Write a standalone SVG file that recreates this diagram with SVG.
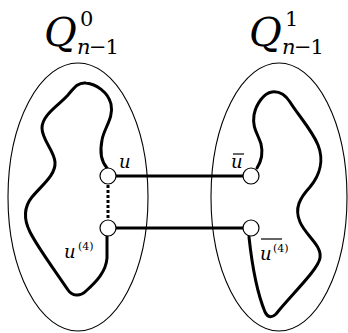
<svg xmlns="http://www.w3.org/2000/svg" width="348" height="333" viewBox="0 0 348 333">
<style>
.ell{fill:none;stroke:#000;stroke-width:1.1}
.cyc{fill:none;stroke:#000;stroke-width:3;stroke-linejoin:round;stroke-linecap:round}
.edge{stroke:#000;stroke-width:3;fill:none}
.dot{stroke:#000;stroke-width:3;stroke-dasharray:3 2;fill:none}
.node{fill:#fff;stroke:#000;stroke-width:1.2}
text{font-family:'DejaVu Serif','Liberation Serif',serif;fill:#000}
.t{font-style:italic}
.bar{stroke:#000;stroke-width:1.2}
</style>
<g id="Q0">
<ellipse class="ell" cx="78" cy="197" rx="70" ry="134"/>
<text class="t" x="44" y="46" font-size="40">Q</text>
<text x="80" y="26" font-size="21">0</text>
<text class="t" x="77" y="54" font-size="21">n</text>
<text x="89" y="54" font-size="21" letter-spacing="-1">−1</text>
<path class="cyc" d="M107,168 C100,160 100,150 102,140 C104,128 114,118 111,104 C108,92 96,84 86,83 C78,82 74,88 68,95 C58,106 42,115 42,128 C42,140 54,150 55,162 C56,175 42,185 32,197 C24,207 23,218 30,232 C38,248 56,272 68,290 C72,296 80,297 86,291 C96,282 106,272 107,258 L107,236"/>
</g>
<g id="Q1">
<ellipse class="ell" cx="279" cy="197" rx="68" ry="134"/>
<text class="t" x="249" y="46" font-size="40">Q</text>
<text x="285" y="26" font-size="21">1</text>
<text class="t" x="282" y="54" font-size="21">n</text>
<text x="294" y="54" font-size="21" letter-spacing="-1">−1</text>
<path class="cyc" d="M257,168 C262,160 263,152 261,144 C258,134 252,128 254,115 C256,104 264,93 272,92 C280,91 286,96 290,102 C298,115 312,130 318,145 C324,160 320,175 310,187 C300,198 294,208 300,222 C306,236 322,245 320,258 C318,270 290,296 276,314 C272,318 268,318 265,312 C258,295 252,265 249,237"/>
</g>
<g id="connectors">
<line class="edge" x1="116" y1="176" x2="243" y2="176"/>
<line class="edge" x1="116" y1="228" x2="243" y2="228"/>
<line class="dot" x1="108" y1="185" x2="108" y2="220"/>
</g>
<g id="u">
<circle class="node" cx="108" cy="176" r="8"/>
<text class="t" x="119" y="168" font-size="18">u</text>
</g>
<g id="u4">
<circle class="node" cx="108" cy="228" r="8"/>
<text class="t" x="64" y="258" font-size="18">u</text>
<text x="78" y="250" font-size="11">(4)</text>
</g>
<g id="ubar">
<circle class="node" cx="251" cy="176" r="8"/>
<text class="t" x="231" y="168" font-size="18">u</text>
<line class="bar" x1="233" y1="154" x2="244" y2="154"/>
</g>
<g id="u4bar">
<circle class="node" cx="251" cy="228" r="8"/>
<text class="t" x="260" y="260" font-size="18">u</text>
<text x="273" y="252" font-size="11">(4)</text>
<line class="bar" x1="261" y1="239" x2="282" y2="239"/>
</g>
</svg>
